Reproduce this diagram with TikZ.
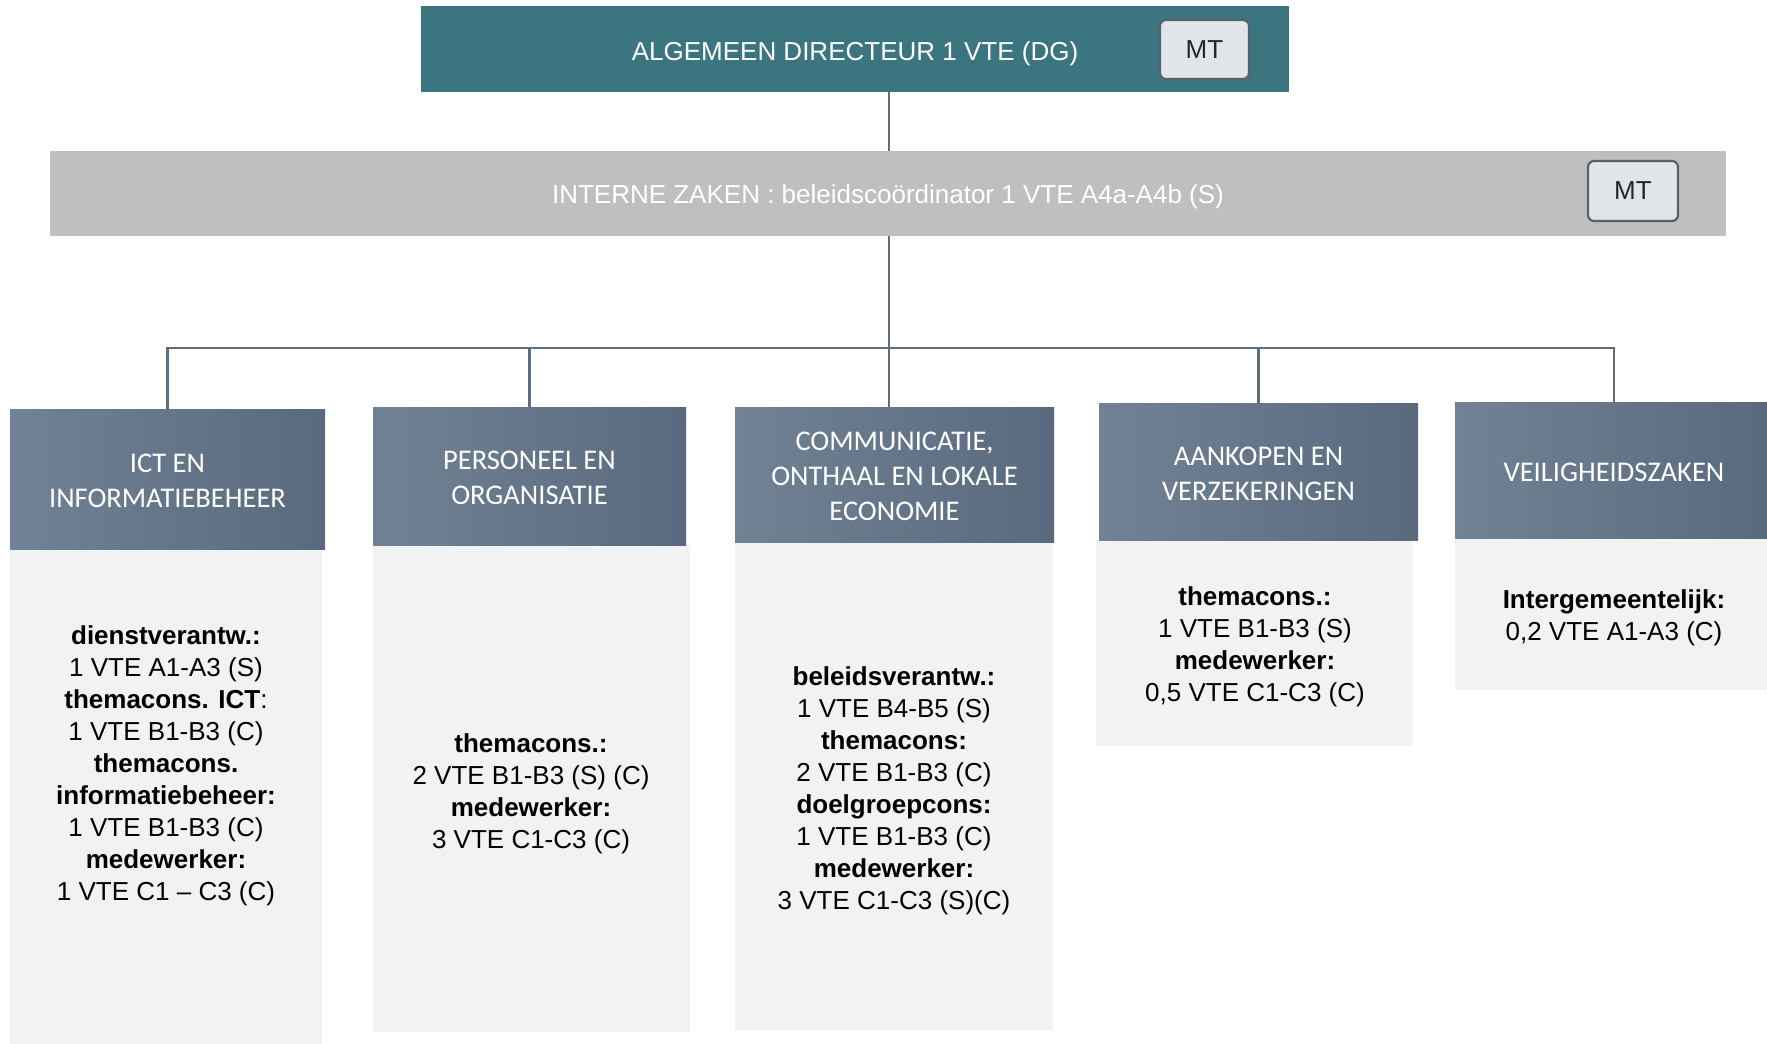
\documentclass[tikz,border=0pt]{standalone}
\usepackage{fontspec}
\setmainfont{Liberation Sans}
\newfontfamily\calib{Carlito}
\usetikzlibrary{shadings}
\definecolor{teal}{HTML}{3B7580}
\definecolor{hdrL}{HTML}{718295}
\definecolor{hdrR}{HTML}{5A6A7E}
\definecolor{bodyF}{HTML}{F2F2F2}
\definecolor{izgray}{HTML}{BFBFBF}
\definecolor{mtfill}{HTML}{E1E4E8}
\definecolor{mtdraw}{HTML}{56616C}
\definecolor{linec}{HTML}{5E6E80}
\tikzset{
  x=1pt, y=-1pt,
  hdr/.style={rectangle, left color=hdrL, right color=hdrR, draw=none, inner sep=0pt},
  htxt/.style={text=white, font=\calib\fontsize{28.5}{35}\selectfont, align=center, inner sep=0pt},
  bodybox/.style={rectangle, fill=bodyF, draw=none, inner sep=0pt},
  btxt/.style={font=\fontsize{26}{32}\selectfont, align=center, inner sep=0pt, text=black},
  ttxt/.style={font=\fontsize{26}{32}\selectfont, text=white, inner sep=0pt},
  mtbox/.style={rectangle, rounded corners=6pt, fill=mtfill, draw=mtdraw, line width=2.2pt,
    minimum width=89pt, minimum height=59pt, font=\fontsize{26}{32}\selectfont, text=black!85, inner sep=0pt},
  conn/.style={draw=linec, line width=2.5pt},
}
\begin{document}
\begin{tikzpicture}
\useasboundingbox (0,0) rectangle (1767,1044);
% top
\node[rectangle, fill=teal, minimum width=868pt, minimum height=86pt, inner sep=0pt] (top) at (855,49) {};
\node[ttxt] (toptxt) at ([yshift=-4.5pt]top.center) {ALGEMEEN DIRECTEUR 1 VTE (DG)};
\node[mtbox] (mt1) at (1204.5,49.5) {\raisebox{-2pt}{MT}};
% interne zaken
\node[rectangle, fill=izgray, minimum width=1676pt, minimum height=85pt, inner sep=0pt] (iz) at (888,193.5) {};
\node[ttxt] (iztxt) at ([yshift=-3.5pt]iz.center) {INTERNE ZAKEN : beleidsco\"ordinator 1 VTE A4a-A4b (S)};
\node[mtbox, minimum width=90pt, minimum height=60pt] (mt2) at (1633,191) {\raisebox{-2pt}{MT}};
% bodies
\node[bodybox, minimum width=312pt, minimum height=495pt] (b1) at (166,796.5) {};
\node[bodybox, minimum width=317pt, minimum height=487pt] (b2) at (531.5,788.5) {};
\node[bodybox, minimum width=318pt, minimum height=488pt] (b3) at (894,786) {};
\node[bodybox, minimum width=317pt, minimum height=206pt] (b4) at (1254.5,643) {};
\node[bodybox, minimum width=312pt, minimum height=152pt] (b5) at (1611,614) {};
% headers
\node[hdr, minimum width=315pt, minimum height=140pt] (h1) at (167.5,479) {};
\node[hdr, minimum width=313pt, minimum height=138pt] (h2) at (529.5,476) {};
\node[hdr, minimum width=319pt, minimum height=135pt] (h3) at (894.5,474.5) {};
\node[hdr, minimum width=319pt, minimum height=137pt] (h4) at (1258.5,471.5) {};
\node[hdr, minimum width=312pt, minimum height=136pt] (h5) at (1611,470) {};
\node[htxt] (h1t) at ([yshift=-2.3pt]h1.center) {ICT EN\\INFORMATIEBEHEER};
\node[htxt] (h2t) at ([yshift=-2.3pt]h2.center) {PERSONEEL EN\\ORGANISATIE};
\node[htxt] (h3t) at ([yshift=-2.3pt]h3.center) {COMMUNICATIE,\\ONTHAAL EN LOKALE\\ECONOMIE};
\node[htxt] (h4t) at ([yshift=-2.3pt]h4.center) {AANKOPEN EN\\VERZEKERINGEN};
\node[htxt] (h5t) at ([xshift=3pt,yshift=-2.3pt]h5.center) {VEILIGHEIDSZAKEN};
% body texts
\node[btxt] (t1) at (166,766) {\textbf{dienstverantw.:}\\1 VTE A1-A3 (S)\\\textbf{themacons. ICT}:\\1 VTE B1-B3 (C)\\\textbf{themacons.}\\\textbf{informatiebeheer:}\\1 VTE B1-B3 (C)\\\textbf{medewerker:}\\1 VTE C1 -- C3 (C)};
\node[btxt] (t2) at (531,793.5) {\textbf{themacons.:}\\2 VTE B1-B3 (S) (C)\\\textbf{medewerker:}\\3 VTE C1-C3 (C)};
\node[btxt] (t3) at (894,790.5) {\textbf{beleidsverantw.:}\\1 VTE B4-B5 (S)\\\textbf{themacons:}\\2 VTE B1-B3 (C)\\\textbf{doelgroepcons:}\\1 VTE B1-B3 (C)\\\textbf{medewerker:}\\3 VTE C1-C3 (S)(C)};
\node[btxt] (t4) at (1255,647) {\textbf{themacons.:}\\1 VTE B1-B3 (S)\\\textbf{medewerker:}\\0,5 VTE C1-C3 (C)};
\node[btxt] (t5) at (1614,617.5) {\textbf{Intergemeentelijk:}\\0,2 VTE A1-A3 (C)};
% connectors
\coordinate (bus) at (889,348);
\draw[conn] (iz.north -| bus) -- (top.south -| bus);
\draw[conn] (iz.south -| bus) -- (h3.north -| bus);
\draw[conn] (h1.north) |- (bus);
\draw[conn] (h2.north) -- (h2.north |- bus);
\draw[conn] (h4.north) -- (h4.north |- bus);
\draw[conn] (bus) -| ([xshift=3pt]h5.north);
\end{tikzpicture}
\end{document}
